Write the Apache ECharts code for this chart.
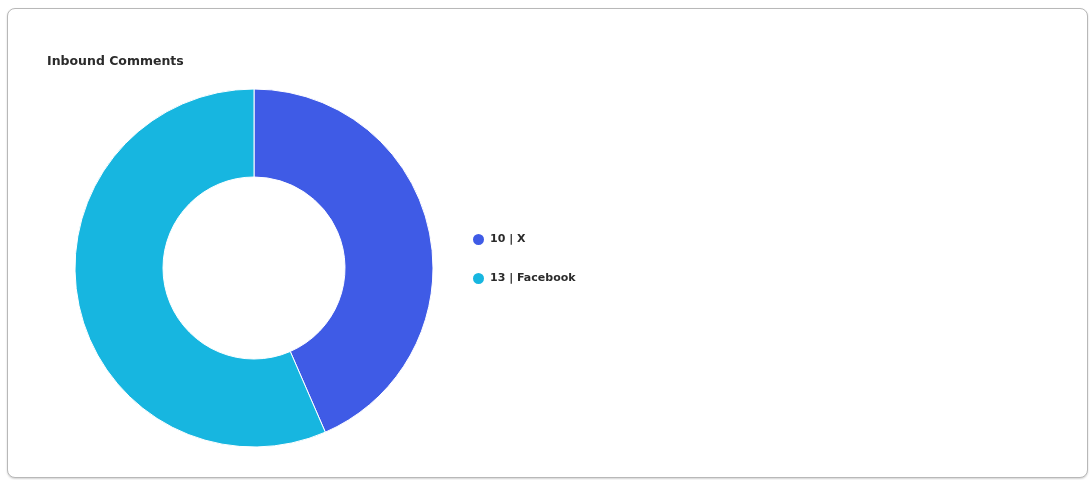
<!DOCTYPE html>
<html>
<head>
<meta charset="utf-8">
<script src="https://cdn.jsdelivr.net/npm/echarts@6/dist/echarts.min.js"></script>
<style>
html,body{margin:0;padding:0;background:#fff;width:1092px;height:480px;overflow:hidden;}
#card{position:absolute;left:7px;top:8px;width:1079px;height:468px;border:1.5px solid #b8b8b8;border-radius:8px;box-shadow:0 1px 2px rgba(0,0,0,0.18);background:#fff;}
#chart{position:absolute;left:0;top:0;width:1092px;height:480px;}
</style>
</head>
<body>
<div id="card"></div>
<div id="chart"></div>
<script>
const categories = ["X", "Facebook"];
const values = [10, 13];
const colors = ["#3f5be6", "#17b6e0"];

const chart = echarts.init(document.getElementById('chart'), null, {renderer: 'canvas'});
const data = categories.map((c, i) => ({name: c, value: values[i], itemStyle: {color: colors[i]}}));
chart.setOption({
  backgroundColor: 'transparent',
  animation: false,
  title: {
    text: 'Inbound Comments',
    left: 42, top: 50,
    textStyle: {fontFamily: 'DejaVu Sans', fontWeight: 'bold', fontSize: 12.5, color: '#2b2b2b'}
  },
  legend: {
    orient: 'vertical',
    left: 466, top: 227,
    icon: 'circle',
    itemWidth: 13, itemHeight: 13,
    itemGap: 24,
    textStyle: {fontFamily: 'DejaVu Sans', fontWeight: 'bold', fontSize: 11, color: '#2b2b2b'},
    formatter: function(name){
      const i = categories.indexOf(name);
      return values[i] + ' | ' + name;
    }
  },
  series: [{
    type: 'pie',
    center: [254, 268],
    radius: [91, 179],
    startAngle: 90,
    clockwise: true,
    label: {show: false},
    labelLine: {show: false},
    itemStyle: {borderColor: '#fff', borderWidth: 1},
    data: data
  }]
});
</script>
</body>
</html>
